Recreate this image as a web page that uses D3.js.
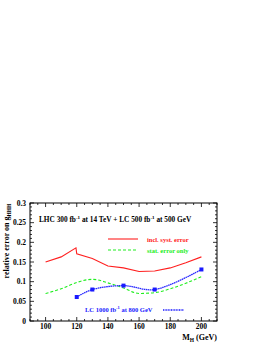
<!DOCTYPE html>
<html><head><meta charset="utf-8">
<script src="https://cdn.jsdelivr.net/npm/d3@7"></script>
<style>body{margin:0;background:#fff}svg{display:block}text{font-family:"Liberation Serif","DejaVu Serif",serif;font-weight:bold}</style>
</head><body>
<script>
const massRed = [100,110,119.5,120,130,140,150,160,170,180,190,200];
const errRed  = [0.150,0.163,0.186,0.171,0.159,0.140,0.135,0.126,0.127,0.135,0.148,0.163];
const massGreen = [100,110,120,130,140,150,160,170,180,190,200];
const errGreen  = [0.070,0.082,0.098,0.106,0.097,0.084,0.070,0.072,0.082,0.096,0.113];
const massBlue = [120,130,150,170,200];
const errBlue  = [0.061,0.080,0.090,0.080,0.131];
const xTicks = [100,120,140,160,180,200];
const yTicks = [0,0.05,0.1,0.15,0.2,0.25,0.3];

const W=268,H=346;
const svg=d3.select("body").append("svg").attr("width",W).attr("height",H);
const L=30,R=217,T=203,B=321;
const x=d3.scaleLinear().domain([90,210]).range([L,R]);
const y=d3.scaleLinear().domain([0,0.3]).range([B,T]);

svg.append("rect").attr("x",L).attr("y",T).attr("width",R-L).attr("height",B-T)
  .attr("fill","none").attr("stroke","#000").attr("stroke-width",1);

const g=svg.append("g").attr("stroke","#000").attr("stroke-width",0.8);
d3.range(90,210.1,5).forEach(v=>{
  const major = xTicks.includes(v);
  const len = major?4:2;
  g.append("line").attr("x1",x(v)).attr("x2",x(v)).attr("y1",B).attr("y2",B-len);
  g.append("line").attr("x1",x(v)).attr("x2",x(v)).attr("y1",T).attr("y2",T+len);
});
d3.range(0,0.3001,0.01).forEach(v=>{
  const major = yTicks.some(t=>Math.abs(t-v)<1e-6);
  const len = major?4:2;
  g.append("line").attr("x1",L).attr("x2",L+len).attr("y1",y(v)).attr("y2",y(v));
  g.append("line").attr("x1",R).attr("x2",R-len).attr("y1",y(v)).attr("y2",y(v));
});
svg.selectAll(".xl").data(xTicks).enter().append("text")
  .attr("x",d=>x(d)).attr("y",B+7.5).attr("text-anchor","middle").attr("font-size",7.5).text(d=>d);
svg.selectAll(".yl").data(yTicks).enter().append("text")
  .attr("x",L-4).attr("y",d=>y(d)+2.5).attr("text-anchor","end").attr("font-size",7.5)
  .text(d=>d===0?"0":String(+d.toFixed(2)));

const xt=svg.append("text").attr("x",R).attr("y",340).attr("text-anchor","end").attr("font-size",8);
xt.append("tspan").text("M");
xt.append("tspan").attr("font-size",5.5).attr("dy",2).text("H");
xt.append("tspan").attr("dy",-2).text(" (GeV)");
const yt=svg.append("text").attr("transform","translate(9,241) rotate(-90)").attr("text-anchor","middle").attr("font-size",8);
yt.append("tspan").text("relative error on g");
yt.append("tspan").attr("font-size",5.5).attr("dy",2).text("HHH");

const line=(xs,ys,curve)=>d3.line().x((d,i)=>x(xs[i])).y((d,i)=>y(ys[i])).curve(curve)(ys);
svg.append("path").attr("d",line(massRed,errRed,d3.curveLinear)).attr("fill","none")
  .attr("stroke","#ff2020").attr("stroke-width",1.1);
svg.append("path").attr("d",line(massGreen,errGreen,d3.curveMonotoneX)).attr("fill","none")
  .attr("stroke","#20ee20").attr("stroke-width",1.1).attr("stroke-dasharray","3,2");
svg.append("path").attr("d",line(massBlue,errBlue,d3.curveCatmullRom)).attr("fill","none")
  .attr("stroke","#2a2aff").attr("stroke-width",1.3).attr("stroke-dasharray","1.6,0.5");
svg.selectAll(".bm").data(errBlue).enter().append("rect")
  .attr("x",(d,i)=>x(massBlue[i])-2).attr("y",d=>y(d)-2).attr("width",4).attr("height",4).attr("fill","#1a1aff");

const ann=svg.append("text").attr("x",39).attr("y",222).attr("font-size",7.3);
ann.append("tspan").text("LHC 300 fb");
ann.append("tspan").attr("font-size",5).attr("dy",-3).text("-1");
ann.append("tspan").attr("dy",3).text(" at 14 TeV + LC 500 fb");
ann.append("tspan").attr("font-size",5).attr("dy",-3).text("-1");
ann.append("tspan").attr("dy",3).text(" at 500 GeV");

svg.append("line").attr("x1",108).attr("x2",138).attr("y1",239).attr("y2",239).attr("stroke","#ff2020").attr("stroke-width",1.1);
svg.append("text").attr("x",147).attr("y",241.5).attr("font-size",6.5).attr("fill","#ff2020").text("incl. syst. error");
svg.append("line").attr("x1",108).attr("x2",138).attr("y1",250).attr("y2",250).attr("stroke","#20ee20").attr("stroke-width",1.1).attr("stroke-dasharray","3,2");
svg.append("text").attr("x",147).attr("y",252.5).attr("font-size",6.5).attr("fill","#20ee20").text("stat. error only");

const lc=svg.append("text").attr("x",85).attr("y",312).attr("font-size",6.5).attr("fill","#1a1aff");
lc.append("tspan").text("LC 1000 fb");
lc.append("tspan").attr("font-size",4.5).attr("dy",-3).text("-1");
lc.append("tspan").attr("dy",3).text(" at 800 GeV");
svg.append("line").attr("x1",163).attr("x2",184).attr("y1",310).attr("y2",310).attr("stroke","#1a1aff").attr("stroke-width",1.4).attr("stroke-dasharray","1,0.6");
</script>
</body></html>
